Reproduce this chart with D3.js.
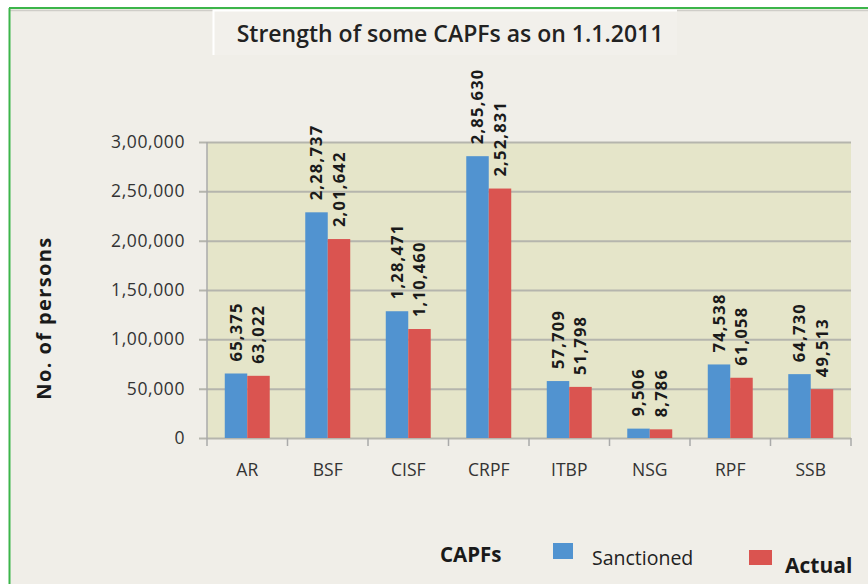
<!DOCTYPE html>
<html>
<head>
<meta charset="utf-8">
<script src="https://cdn.jsdelivr.net/npm/d3@7"></script>
<style>
  html, body { margin: 0; padding: 0; background: #fff; }
  svg { display: block; font-family: "Open Sans", sans-serif; }
</style>
</head>
<body>
<svg width="868" height="584"></svg>
<script>
const categories = ["AR", "BSF", "CISF", "CRPF", "ITBP", "NSG", "RPF", "SSB"];
const sanctioned = [65375, 228737, 128471, 285630, 57709, 9506, 74538, 64730];
const actual = [63022, 201642, 110460, 252831, 51798, 8786, 61058, 49513];
const seriesNames = ["Sanctioned", "Actual"];
const yTicks = [0, 50000, 100000, 150000, 200000, 250000, 300000];

const svg = d3.select("svg");
const width = +svg.attr("width");
const height = +svg.attr("height");
const colors = ["#5193d0", "#da5450"];

// Indian digit grouping, e.g. 2,85,630
function fmtIN(v) {
  const s = String(v);
  if (s.length <= 3) return s;
  const last3 = s.slice(-3);
  let rest = s.slice(0, -3);
  const parts = [];
  while (rest.length > 2) {
    parts.unshift(rest.slice(-2));
    rest = rest.slice(0, -2);
  }
  if (rest) parts.unshift(rest);
  return parts.join(",") + "," + last3;
}

const plot = { left: 207, right: 851, top: 142, bottom: 438 };

// background + frame
svg.append("rect").attr("width", width).attr("height", height).attr("fill", "#fff");
svg.append("rect").attr("x", 9).attr("y", 8).attr("width", width - 9).attr("height", height - 8)
  .attr("fill", "#f0eee8");
svg.append("line").attr("x1", 9).attr("x2", width).attr("y1", 10.5).attr("y2", 10.5)
  .attr("stroke", "#cfcdc8").attr("stroke-width", 1.5);
svg.append("line").attr("x1", 9).attr("x2", width).attr("y1", 8).attr("y2", 8)
  .attr("stroke", "#3cb54a").attr("stroke-width", 2);
svg.append("line").attr("x1", 9.5).attr("x2", 9.5).attr("y1", 8).attr("y2", height)
  .attr("stroke", "#3cb54a").attr("stroke-width", 2);

// title box
svg.append("rect").attr("x", 213).attr("y", 10).attr("width", 464).attr("height", 45)
  .attr("fill", "#f2f0eb");
svg.append("path").attr("d", "M213.5,55V10.5H677")
  .attr("fill", "none").attr("stroke", "#fff").attr("stroke-width", 2);
svg.append("text").attr("x", 450).attr("y", 42).attr("text-anchor", "middle")
  .attr("font-size", 23).attr("fill", "#222").attr("font-weight", 600)
  .text("Strength of some CAPFs as on 1.1.2011");

const x = d3.scaleBand().domain(categories).range([plot.left, plot.right]).paddingInner(0).paddingOuter(0);
const xs = d3.scaleBand().domain(seriesNames).range([0, x.bandwidth()]).paddingOuter(0.79).paddingInner(0);
const y = d3.scaleLinear().domain([0, 300000]).range([plot.bottom, plot.top]);

svg.append("rect").attr("x", plot.left).attr("y", plot.top)
  .attr("width", plot.right - plot.left).attr("height", plot.bottom - plot.top)
  .attr("fill", "#e5e5c9");

// gridlines + y axis
const yAxis = svg.append("g").attr("transform", `translate(${plot.left},0)`)
  .call(d3.axisLeft(y).tickValues(yTicks).tickSize(-(plot.right - plot.left)).tickSizeOuter(0)
    .tickPadding(22).tickFormat(fmtIN));
yAxis.select(".domain").remove();
yAxis.selectAll(".tick line").attr("stroke", "#b5b5ad").attr("stroke-width", 2).attr("x1", -8);
yAxis.selectAll(".tick text").attr("font-size", 17.5).attr("fill", "#333")
  .attr("font-family", "Open Sans, sans-serif").attr("letter-spacing", 0.6);
svg.append("line").attr("x1", plot.left).attr("x2", plot.left)
  .attr("y1", plot.top).attr("y2", plot.bottom)
  .attr("stroke", "#aaa").attr("stroke-width", 1.5);

// x axis
const xAxis = svg.append("g").attr("transform", `translate(0,${plot.bottom})`)
  .call(d3.axisBottom(x).tickSize(0).tickPadding(26));
xAxis.select(".domain").remove();
xAxis.selectAll(".tick text").attr("font-size", 17.5).attr("fill", "#333")
  .attr("font-family", "Open Sans, sans-serif");
const bounds = categories.map(c => x(c)).concat([plot.right]);
svg.append("g").selectAll("line").data(bounds).join("line")
  .attr("x1", d => d).attr("x2", d => d).attr("y1", plot.bottom).attr("y2", plot.bottom + 8)
  .attr("stroke", "#aaa").attr("stroke-width", 1.5);

// bars
const rows = categories.map((c, i) => ({ cat: c, vals: [sanctioned[i], actual[i]] }));
const groups = svg.append("g").selectAll("g").data(rows).join("g")
  .attr("transform", d => `translate(${x(d.cat)},0)`);
groups.selectAll("rect").data(d => d.vals.map((v, j) => ({ v, s: seriesNames[j], j })))
  .join("rect")
  .attr("x", d => xs(d.s))
  .attr("y", d => y(d.v))
  .attr("width", xs.bandwidth())
  .attr("height", d => y(0) - y(d.v))
  .attr("fill", d => colors[d.j]);

// value labels
groups.selectAll("text").data(d => d.vals.map((v, j) => ({ v, s: seriesNames[j] })))
  .join("text")
  .attr("transform", d => `translate(${xs(d.s) + xs.bandwidth() / 2},${y(d.v) - 12}) rotate(-90)`)
  .attr("dy", "0.36em")
  .attr("font-size", 16.5).attr("font-weight", 700).attr("fill", "#1a1a1a")
  .attr("letter-spacing", 1.2)
  .text(d => fmtIN(d.v));

// y axis title
svg.append("text").attr("transform", "translate(51,318) rotate(-90)")
  .attr("text-anchor", "middle").attr("font-size", 20).attr("font-weight", 700).attr("fill", "#1a1a1a")
  .attr("letter-spacing", 1.4)
  .text("No. of persons");

// legend
svg.append("text").attr("x", 440).attr("y", 562).attr("font-size", 20.5).attr("font-weight", 700)
  .attr("fill", "#1a1a1a").text("CAPFs");
svg.append("rect").attr("x", 553).attr("y", 543).attr("width", 20).attr("height", 16).attr("fill", colors[0]);
svg.append("text").attr("x", 592).attr("y", 565).attr("font-size", 19.5).attr("fill", "#222")
  .text(seriesNames[0]);
svg.append("rect").attr("x", 749).attr("y", 550).attr("width", 23).attr("height", 15).attr("fill", colors[1]);
svg.append("text").attr("x", 785).attr("y", 573).attr("font-size", 21).attr("font-weight", 700)
  .attr("fill", "#1a1a1a").text(seriesNames[1]);
</script>
</body>
</html>
